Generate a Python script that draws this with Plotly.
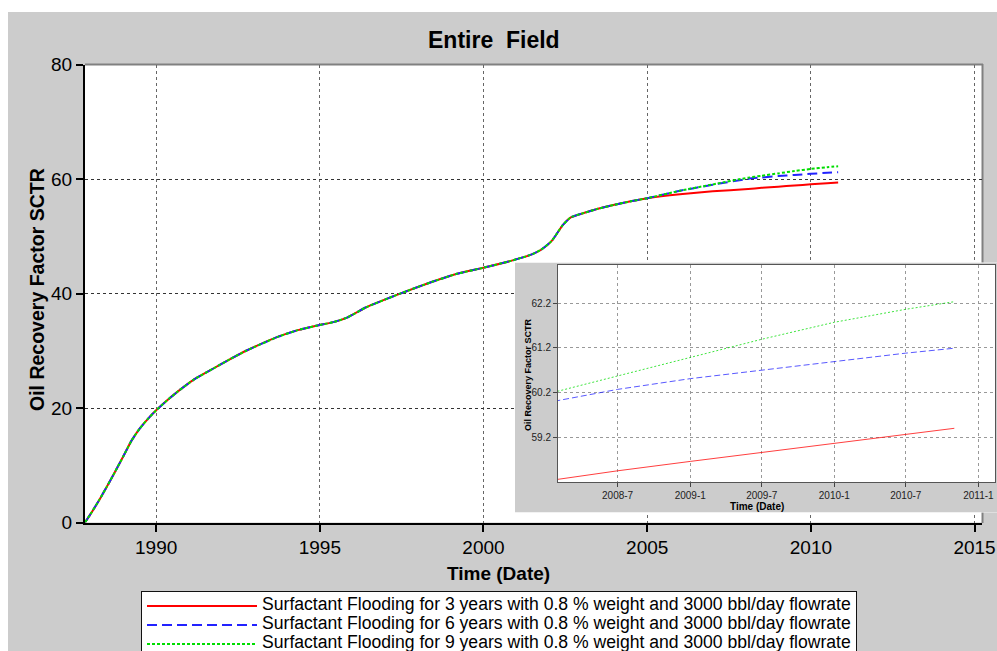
import plotly.graph_objects as go

W, H = 997, 651

# ---------------- data ----------------
common_dates = ['1987-10-30', '1988-01-01', '1988-04-01', '1988-07-01', '1988-10-01',
                '1989-01-01', '1989-04-01', '1989-07-01', '1989-10-01', '1990-01-01',
                '1990-05-01', '1990-09-01', '1991-03-01', '1991-10-01', '1992-04-01',
                '1992-10-01', '1993-10-01', '1994-05-01', '1995-01-01', '1995-06-01',
                '1995-11-01', '1996-06-01', '1997-06-01', '1998-06-01', '1999-03-01',
                '2000-01-01', '2000-11-01', '2001-06-01', '2001-10-01', '2002-02-01',
                '2002-06-01', '2002-09-01', '2003-02-01', '2003-07-01', '2004-01-01',
                '2004-07-01', '2005-01-01']
common_vals = [0.0, 1.5, 3.8, 6.3, 8.9,
               11.6, 14.3, 16.4, 18.1, 19.6,
               21.3, 22.9, 25.0, 26.9, 28.5,
               30.0, 32.5, 33.6, 34.5, 35.0,
               35.8, 37.6, 39.9, 42.0, 43.4,
               44.5, 45.7, 46.7, 47.6, 49.2,
               51.9, 53.3, 54.1, 54.8, 55.5,
               56.1, 56.65]

tail_dates = ['2006-01-01', '2007-01-01', '2008-02-01', '2008-07-01', '2009-01-01',
              '2009-07-01', '2010-01-01', '2010-07-01', '2010-11-01']
red_tail = [57.35, 57.85, 58.26, 58.45, 58.66, 58.86, 59.07, 59.27, 59.40]
blue_tail = [57.95, 59.00, 60.02, 60.27, 60.51, 60.70, 60.90, 61.08, 61.19]
green_tail = [57.95, 59.05, 60.23, 60.57, 60.98, 61.39, 61.77, 62.06, 62.23]

series_names = [
    'Surfactant Flooding for 3 years with 0.8 % weight and 3000 bbl/day flowrate',
    'Surfactant Flooding for 6 years with 0.8 % weight and 3000 bbl/day flowrate',
    'Surfactant Flooding for 9 years with 0.8 % weight and 3000 bbl/day flowrate',
]
series_tails = [red_tail, blue_tail, green_tail]
colors = ['#ff0000', '#2222ff', '#00dd00']
dashes = ['solid', '10px,5px', '3px,2px']
inset_dashes = ['solid', '6px,3px', '2px,2px']

main_yticks = [0, 20, 40, 60, 80]
inset_yticks = [59.2, 60.2, 61.2, 62.2]

FONT = 'Arial, Liberation Sans, sans-serif'


def px_x(p):
    return p / W


def px_y(p):
    return 1 - p / H


fig = go.Figure()

for name, tail, color, dash in zip(series_names, series_tails, colors, dashes):
    fig.add_trace(go.Scatter(
        x=common_dates + tail_dates, y=common_vals + tail,
        mode='lines', xaxis='x', yaxis='y',
        name='<span style="font-size:17.6px">' + name + '</span>',
        line=dict(color=color, width=2, dash=dash, shape='spline', smoothing=0.5),
    ))

# empty trace to create the inset background subplot
fig.add_trace(go.Scatter(x=[], y=[], xaxis='x2', yaxis='y2', showlegend=False,
                         hoverinfo='skip'))

for tail, color, dash in zip(series_tails, colors, inset_dashes):
    fig.add_trace(go.Scatter(
        x=common_dates + tail_dates, y=common_vals + tail,
        mode='lines', xaxis='x3', yaxis='y3', showlegend=False,
        line=dict(color=color, width=1, dash=dash), opacity=0.75,
    ))

axis_common = dict(automargin=False, zeroline=False)

fig.update_layout(
    width=W, height=H, autosize=False,
    margin=dict(l=0, r=0, t=0, b=0, pad=0, autoexpand=False),
    paper_bgcolor='#cccccc', plot_bgcolor='#ffffff',
    font=dict(family=FONT, color='#000000'),
    showlegend=True,
    xaxis=dict(
        domain=[px_x(85), px_x(982)], anchor='y', type='date',
        range=['1987-10-30', '2015-03-25'],
        tick0='1990-01-01', dtick='M60', tickformat='%Y',
        ticks='outside', ticklen=7, tickwidth=1.5, tickcolor='#000',
        showline=True, linecolor='#000', linewidth=2,
        showgrid=True, gridcolor='#666', griddash='dot', gridwidth=1,
        tickfont=dict(size=19, color='#000'), **axis_common,
    ),
    yaxis=dict(
        domain=[px_y(522.5), px_y(64.5)], anchor='x',
        range=[0, 80], tickvals=main_yticks,
        ticks='outside', ticklen=7, tickwidth=1.5, tickcolor='#000',
        showline=True, linecolor='#000', linewidth=2,
        showgrid=True, gridcolor='#333', griddash='dot', gridwidth=1,
        tickfont=dict(size=19, color='#000'), **axis_common,
    ),
    xaxis2=dict(domain=[px_x(515), 1.0], anchor='y2', range=[0, 1], visible=False,
                **axis_common),
    yaxis2=dict(domain=[px_y(512.5), px_y(262.5)], anchor='x2', range=[0, 1], visible=False,
                **axis_common),
    xaxis3=dict(
        domain=[px_x(558), px_x(995)], anchor='y3', type='date',
        range=['2008-02-01', '2011-02-12'],
        tick0='2008-01-01', dtick='M6', tickformat='%Y-%-m',
        ticks='outside', ticklen=4, tickwidth=1, tickcolor='#444',
        showline=True, linecolor='#555', linewidth=1, mirror=True,
        showgrid=True, gridcolor='#999', griddash='dot', gridwidth=1,
        tickfont=dict(size=10, color='#222'), **axis_common,
    ),
    yaxis3=dict(
        domain=[px_y(482), px_y(265)], anchor='x3',
        range=[58.2, 63.05], tickvals=inset_yticks,
        ticks='outside', ticklen=4, tickwidth=1, tickcolor='#444',
        showline=True, linecolor='#555', linewidth=1, mirror=True,
        showgrid=True, gridcolor='#999', griddash='dot', gridwidth=1,
        tickfont=dict(size=10, color='#222'), **axis_common,
    ),
    legend=dict(
        x=px_x(141), y=px_y(590.5), xanchor='left', yanchor='top',
        bgcolor='#ffffff', bordercolor='#111', borderwidth=1,
        font=dict(size=11, color='#000'), itemwidth=110, tracegroupgap=0,
    ),
    shapes=[
        dict(type='rect', xref='paper', yref='paper', x0=0, x1=px_x(8), y0=0, y1=1,
             fillcolor='#ffffff', line=dict(width=0), layer='below'),
        dict(type='rect', xref='paper', yref='paper', x0=0, x1=1, y0=px_y(12), y1=1,
             fillcolor='#ffffff', line=dict(width=0), layer='below'),
        dict(type='line', xref='paper', yref='paper', x0=px_x(85), x1=px_x(983),
             y0=px_y(64.5), y1=px_y(64.5), line=dict(color='#808080', width=2), layer='below'),
        dict(type='line', xref='paper', yref='paper', x0=px_x(982.5), x1=px_x(982.5),
             y0=px_y(523), y1=px_y(64), line=dict(color='#808080', width=2), layer='below'),
        dict(type='rect', xref='x2', yref='y2', x0=0, x1=1, y0=0, y1=1,
             fillcolor='#cccccc', line=dict(width=0), layer='below'),
    ],
    annotations=[
        dict(text='<b>Entire\u00a0 Field</b>', xref='paper', yref='paper',
             x=px_x(494), y=px_y(40), xanchor='center', yanchor='middle',
             showarrow=False, font=dict(size=23, color='#000')),
        dict(text='<b>Time (Date)</b>', xref='paper', yref='paper',
             x=px_x(499), y=px_y(573), xanchor='center', yanchor='middle',
             showarrow=False, font=dict(size=19, color='#000')),
        dict(text='<b>Oil Recovery Factor SCTR</b>', xref='paper', yref='paper',
             x=px_x(37), y=px_y(290), xanchor='center', yanchor='middle', textangle=-90,
             showarrow=False, font=dict(size=19.5, color='#000')),
        dict(text='<b>Oil Recovery Factor SCTR</b>', xref='paper', yref='paper',
             x=px_x(528), y=px_y(375), xanchor='center', yanchor='middle', textangle=-90,
             showarrow=False, font=dict(size=9, color='#000')),
        dict(text='<b>Time (Date)</b>', xref='paper', yref='paper',
             x=px_x(757), y=px_y(506), xanchor='center', yanchor='middle',
             showarrow=False, font=dict(size=10, color='#000')),
    ],
)

fig.write_html(
    'out.html',
    config={'displayModeBar': False},
    post_script="document.body.style.margin='0px';document.body.style.overflow='hidden';",
)
